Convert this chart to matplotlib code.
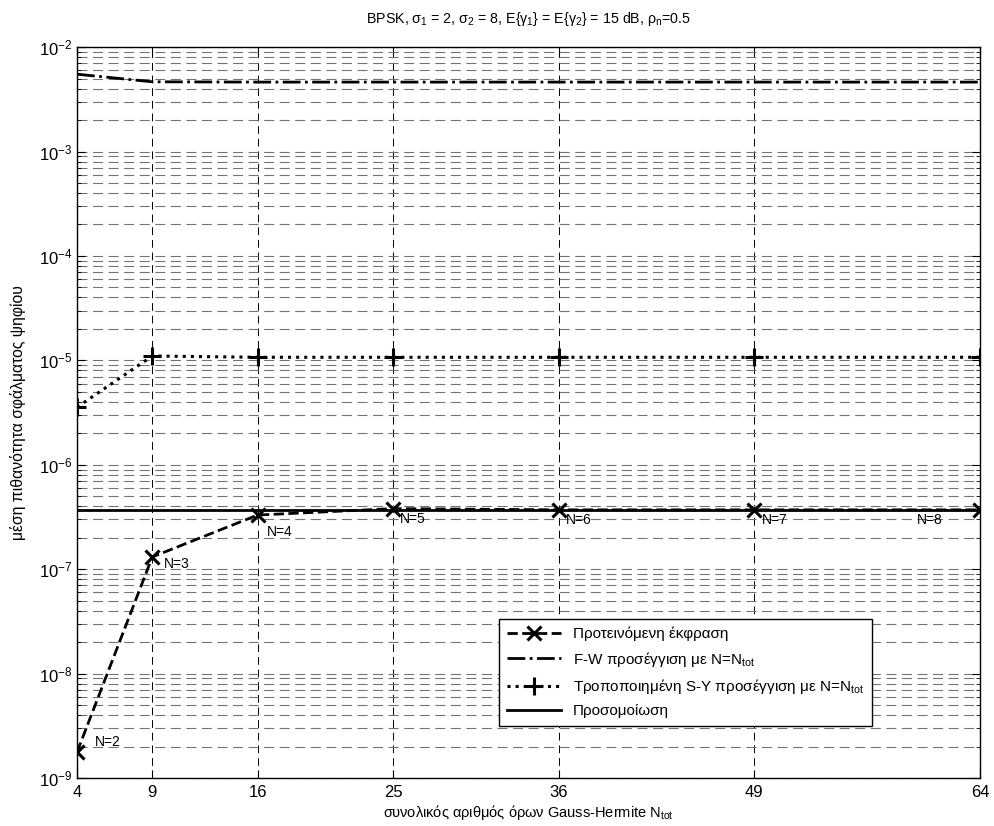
import matplotlib
matplotlib.use("Agg")
import matplotlib.pyplot as plt
from matplotlib.ticker import LogLocator, NullFormatter, NullLocator

plt.rcParams["font.family"] = ["Liberation Sans", "DejaVu Sans"]
plt.rcParams["mathtext.fontset"] = "custom"
plt.rcParams["mathtext.rm"] = "Liberation Sans"
plt.rcParams["mathtext.it"] = "Liberation Sans"
plt.rcParams["mathtext.bf"] = "Liberation Sans"

# data
n_tot = [4, 9, 16, 25, 36, 49, 64]
n_labels = ["N=2", "N=3", "N=4", "N=5", "N=6", "N=7", "N=8"]
proposed = [1.77e-9, 1.31e-7, 3.3e-7, 3.8e-7, 3.7e-7, 3.7e-7, 3.7e-7]
fw_approx = [5.5e-3, 4.65e-3, 4.62e-3, 4.62e-3, 4.62e-3, 4.62e-3, 4.62e-3]
sy_approx = [3.56e-6, 1.1e-5, 1.07e-5, 1.07e-5, 1.07e-5, 1.07e-5, 1.07e-5]
simulation = [3.7e-7, 3.7e-7, 3.7e-7, 3.7e-7, 3.7e-7, 3.7e-7, 3.7e-7]

# label offsets in pixels (dx, dy), alignment
label_pos = [(18, 10, "left"), (12, -7, "left"), (9, -17, "left"),
             (7, -10, "left"), (7, -10, "left"), (8, -10, "left"),
             (-37, -10, "right")]

fig = plt.figure(figsize=(9.94, 8.26), dpi=100)
ax = fig.add_axes([0.0775, 0.0581, 0.9085, 0.8849])

ax.plot(n_tot, proposed, color="black", ls="--", lw=2, marker="x",
        ms=10, mew=2.2, label="Προτεινόμενη έκφραση")
ax.plot(n_tot, fw_approx, color="black", ls="-.", lw=2,
        label=r"F-W προσέγγιση με N=N$_{\mathrm{tot}}$")
ax.plot(n_tot, sy_approx, color="black", ls=":", lw=2.2, marker="+",
        ms=13, mew=2.2,
        label=r"Τροποποιημένη S-Y προσέγγιση με N=N$_{\mathrm{tot}}$")
ax.plot(n_tot, simulation, color="black", ls="-", lw=2,
        label="Προσομοίωση")

for x, y, txt, (dx, dy, ha) in zip(n_tot, proposed, n_labels, label_pos):
    ax.annotate(txt, (x, y), xytext=(dx, dy), textcoords="offset pixels",
                ha=ha, va="center", fontsize=10)

ax.set_yscale("log")
ax.set_xlim(4, 64)
ax.set_ylim(1e-9, 1e-2)
ax.set_xticks(n_tot)
ax.xaxis.set_minor_locator(NullLocator())
ax.yaxis.set_major_locator(LogLocator(base=10, numticks=20))
ax.yaxis.set_minor_locator(LogLocator(base=10, subs=range(2, 10), numticks=20))
ax.yaxis.set_minor_formatter(NullFormatter())

ax.tick_params(which="both", direction="in", top=True, right=True,
               labelsize=12)
ax.tick_params(which="major", length=6)
ax.tick_params(which="minor", length=3)
ax.tick_params(axis="x", pad=5)

ax.grid(True, axis="x", which="major", color="black", ls=(0, (8, 5)), lw=0.7)
ax.grid(True, axis="y", which="both", color="0.45", ls=(0, (9, 5)), lw=0.8)
for s in ax.spines.values():
    s.set_linewidth(1.0)

ax.set_title(r"BPSK, $\sigma_1$ = 2, $\sigma_2$ = 8, E{$\gamma_1$} = E{$\gamma_2$} = 15 dB, $\rho_n$=0.5",
             fontsize=10.3, pad=17)
ax.set_xlabel(r"συνολικός αριθμός όρων Gauss-Hermite N$_{\mathrm{tot}}$",
              fontsize=10.5, labelpad=2)
ax.set_ylabel("μέση πιθανότητα σφάλματος ψηφίου", fontsize=11.3, labelpad=9)

leg = ax.legend(loc="lower right", bbox_to_anchor=(0.88, 0.071),
                fontsize=11, handlelength=3.5, labelspacing=0.55,
                borderpad=0.5, fancybox=False, framealpha=1,
                edgecolor="black", borderaxespad=0)
leg.get_frame().set_linewidth(1.0)

fig.savefig("out.png", dpi=100)
